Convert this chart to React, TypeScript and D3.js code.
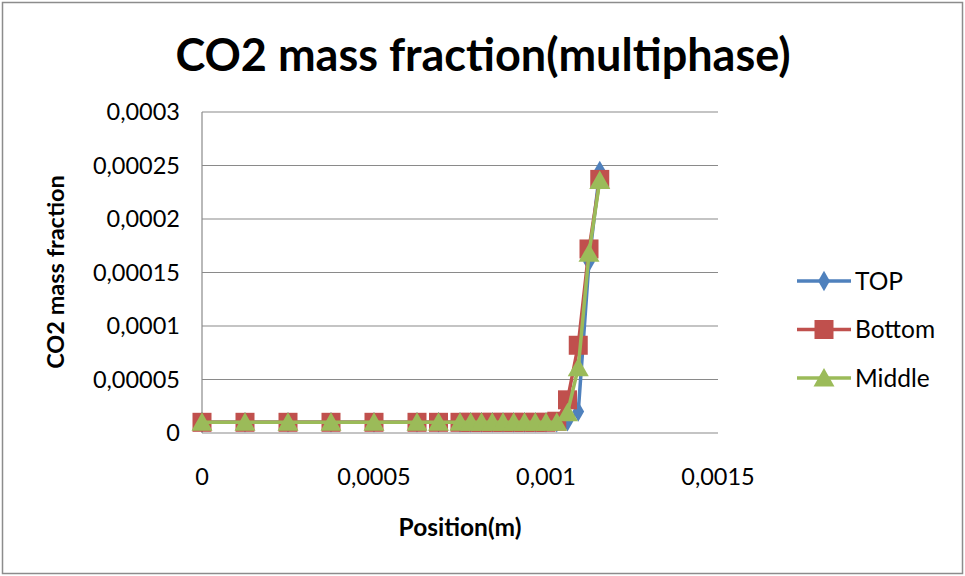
import React from 'react';
import * as d3 from 'd3';

const positions = [
  0, 0.000125, 0.00025, 0.000375, 0.0005, 0.000625, 0.0006875, 0.00075, 0.00078125, 0.0008125,
  0.00084375, 0.000875, 0.00090625, 0.0009375, 0.00096875, 0.001, 0.00103125, 0.0010625,
  0.00109375, 0.001125, 0.00115625,
];
const topValues = [
  0.00001, 0.00001, 0.00001, 0.00001, 0.00001, 0.00001, 0.00001, 0.00001, 0.00001, 0.00001,
  0.00001, 0.00001, 0.00001, 0.00001, 0.00001, 0.00001, 0.00001, 0.000011, 0.00002, 0.00016,
  0.000245,
];
const bottomValues = [
  0.00001, 0.00001, 0.00001, 0.00001, 0.00001, 0.00001, 0.00001, 0.00001, 0.00001, 0.00001,
  0.00001, 0.00001, 0.00001, 0.00001, 0.00001, 0.00001, 0.000011, 0.000031, 0.000082, 0.000172,
  0.000237,
];
const middleValues = [
  0.00001, 0.00001, 0.00001, 0.00001, 0.00001, 0.00001, 0.00001, 0.00001, 0.00001, 0.00001,
  0.00001, 0.00001, 0.00001, 0.00001, 0.00001, 0.00001, 0.00001, 0.000019, 0.000061, 0.000168,
  0.000236,
];
const xTicks = [0, 0.0005, 0.001, 0.0015];
const yTicks = [0, 0.00005, 0.0001, 0.00015, 0.0002, 0.00025, 0.0003];

const series = [
  { name: 'TOP', values: topValues, color: '#4F81BD', marker: 'diamond' },
  { name: 'Bottom', values: bottomValues, color: '#C0504D', marker: 'square' },
  { name: 'Middle', values: middleValues, color: '#9BBB59', marker: 'triangle' },
];

const fmt = (v: number) => (v === 0 ? '0' : String(v).replace('.', ','));
const font = 'Lato, "Open Sans", sans-serif';

const Marker = ({ type, x, y, color }: { type: string; x: number; y: number; color: string }) => {
  if (type === 'diamond') {
    const s = d3.symbol(d3.symbolDiamond, 120)();
    return <path d={s || ''} transform={`translate(${x},${y})`} fill={color} />;
  }
  if (type === 'square') {
    return <rect x={x - 9.5} y={y - 9.5} width={19} height={19} fill={color} />;
  }
  return <path d={`M${x},${y - 10}L${x + 10.5},${y + 8.5}L${x - 10.5},${y + 8.5}Z`} fill={color} />;
};

const App = () => {
  const width = 965;
  const height = 576;
  const plot = { left: 202, right: 718, top: 112, bottom: 433 };

  const x = d3.scaleLinear().domain([0, 0.0015]).range([plot.left, plot.right]);
  const y = d3.scaleLinear().domain([0, 0.0003]).range([plot.bottom, plot.top]);

  const line = d3
    .line<number>()
    .x((_, i) => x(positions[i]))
    .y((d) => y(d));

  return (
    <svg
      width={width}
      height={height}
      style={{ position: 'absolute', left: 0, top: 0, background: '#fff' }}
      fontFamily={font}
    >
      <rect x={2.5} y={2.5} width={width - 5} height={height - 5} fill="#fff" stroke="#8c8c8c" strokeWidth={1.5} />

      <text x={483} y={71} textAnchor="middle" fontSize={45} fontWeight="bold" fill="#000">
        CO2 mass fraction(multiphase)
      </text>

      {yTicks.map((t) => (
        <g key={t}>
          {t > 0 && (
            <line x1={plot.left} x2={plot.right} y1={y(t)} y2={y(t)} stroke="#8a8a8a" strokeWidth={1.2} />
          )}
          <text x={180} y={y(t)} dy="0.35em" textAnchor="end" fontSize={23.5} fill="#000">
            {fmt(t)}
          </text>
        </g>
      ))}
      <line x1={plot.left} x2={plot.left} y1={plot.top} y2={plot.bottom} stroke="#8a8a8a" strokeWidth={1.2} />
      <line x1={plot.left} x2={plot.right} y1={plot.bottom} y2={plot.bottom} stroke="#8a8a8a" strokeWidth={1.2} />

      {xTicks.map((t) => (
        <text key={t} x={x(t)} y={477} dy="0.35em" textAnchor="middle" fontSize={23.5} fill="#000">
          {fmt(t)}
        </text>
      ))}

      <text x={460} y={527} dy="0.35em" textAnchor="middle" fontSize={24.5} fontWeight="bold" fill="#000">
        Position(m)
      </text>
      <text
        transform="translate(56,272) rotate(-90)"
        dy="0.35em"
        textAnchor="middle"
        fontSize={23.5}
        fontWeight="bold"
        fill="#000"
      >
        CO2 mass fraction
      </text>

      {series.map((s) => (
        <g key={s.name}>
          <path d={line(s.values) || ''} fill="none" stroke={s.color} strokeWidth={3.5} strokeLinejoin="round" />
          {s.values.map((v, i) => (
            <Marker key={i} type={s.marker} x={x(positions[i])} y={y(v)} color={s.color} />
          ))}
        </g>
      ))}

      {series.map((s, i) => {
        const ly = 281 + i * 48.5;
        return (
          <g key={s.name}>
            <line x1={797} x2={851} y1={ly} y2={ly} stroke={s.color} strokeWidth={3.5} />
            <Marker type={s.marker} x={824} y={ly} color={s.color} />
            <text x={855} y={ly} dy="0.35em" fontSize={24.5} fill="#000">
              {s.name}
            </text>
          </g>
        );
      })}
    </svg>
  );
};

export default App;
